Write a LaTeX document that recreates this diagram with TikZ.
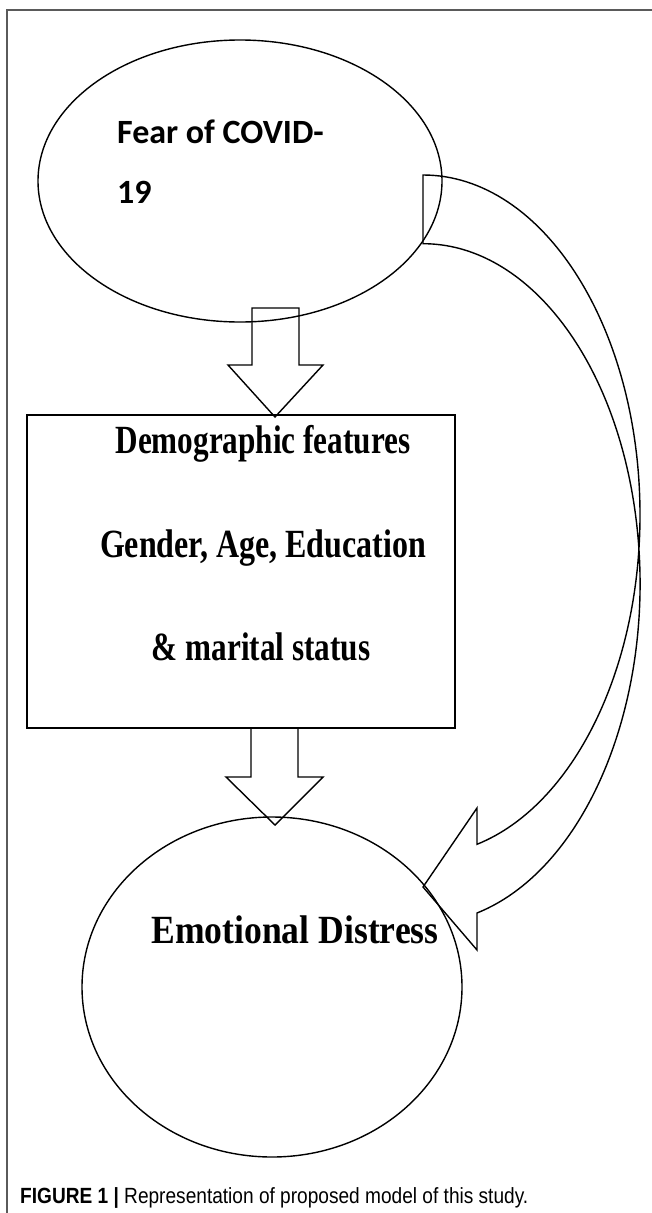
\documentclass[tikz,border=0pt]{standalone}
\usepackage{fontspec}
\usepackage{graphicx}
\usetikzlibrary{shapes.geometric}
\setmainfont{Liberation Serif}
\newfontfamily\calibfont{Carlito}
\newfontfamily\capfont{Liberation Sans}
\definecolor{framecol}{HTML}{5A5A5A}
\tikzset{
  shapeline/.style={draw=black, line width=1.4pt},
  oval/.style={shapeline, ellipse, inner sep=0pt},
  boxnode/.style={shapeline, rectangle, inner sep=0pt},
  fearlabel/.style={anchor=base west, inner sep=0pt, font=\calibfont\bfseries\fontsize{34}{34}\selectfont},
  serlabel/.style={anchor=base, inner sep=0pt, font=\bfseries\fontsize{40}{40}\selectfont},
  blockarrow/.style={shapeline, line join=miter},
}
\begin{document}
\begin{tikzpicture}[x=1pt,y=1pt]
\useasboundingbox (0,0) rectangle (652,-1213);
% frame
\coordinate (frTR) at (652,-10);
\coordinate (frTL) at (7,-10);
\coordinate (frBL) at (7,-1213);
\draw[framecol, line width=2pt] (frTR) -- (frTL) -- (frBL);

% top ellipse
\node[oval, minimum width=404pt, minimum height=282pt] (fear) at (240,-181) {};
\node[fearlabel] (fearA) at (117,-143) {Fear of COVID-};
\node[fearlabel] (fearB) at (117,-203) {19};

% rectangle
\node[boxnode, minimum width=428pt, minimum height=313pt] (demo) at (241,-571.5) {};
\node[serlabel] (demoA) at (263,-453) {\scalebox{0.78}[1]{Demographic features}};
\node[serlabel] (demoB) at (263,-557) {\scalebox{0.8}[1]{Gender, Age, Education}};
\node[serlabel] (demoC) at (261,-660) {\scalebox{0.78}[1]{\& marital status}};

% bottom ellipse
\node[oval, minimum width=380pt, minimum height=340pt] (emo) at (272,-987) {};
\node[serlabel] (emoA) at (295,-943) {\scalebox{0.89}[1]{Emotional Distress}};

% block arrow 1
\draw[blockarrow] (252,-308) -- (299,-308) -- (299,-365) -- (323,-365) -- (275,-417) -- (228,-365) -- (252,-365) -- cycle;
% block arrow 2
\draw[blockarrow] (251,-728) -- (298,-728) -- (298,-777) -- (323,-777) -- (275,-825) -- (226,-777) -- (251,-777) -- cycle;

% curved arrow
\coordinate (cA) at (423,-175);
\coordinate (cB) at (423,-243);
\coordinate (tip) at (423,-887);
\draw[blockarrow] (cA) arc[start angle=90, end angle=-75.6, x radius=217, y radius=340]
  -- (477,-808) -- (tip) -- (477,-950) -- (477,-913)
  arc[start angle=-75.6, end angle=90, x radius=217, y radius=340] -- cycle;

% caption
\node[anchor=base west, inner sep=0pt, font=\capfont\fontsize{22}{22}\selectfont] (cap) at (20,-1203)
  {\scalebox{0.868}[1]{\textbf{FIGURE 1 |} Representation of proposed model of this study.}};
\end{tikzpicture}
\end{document}
